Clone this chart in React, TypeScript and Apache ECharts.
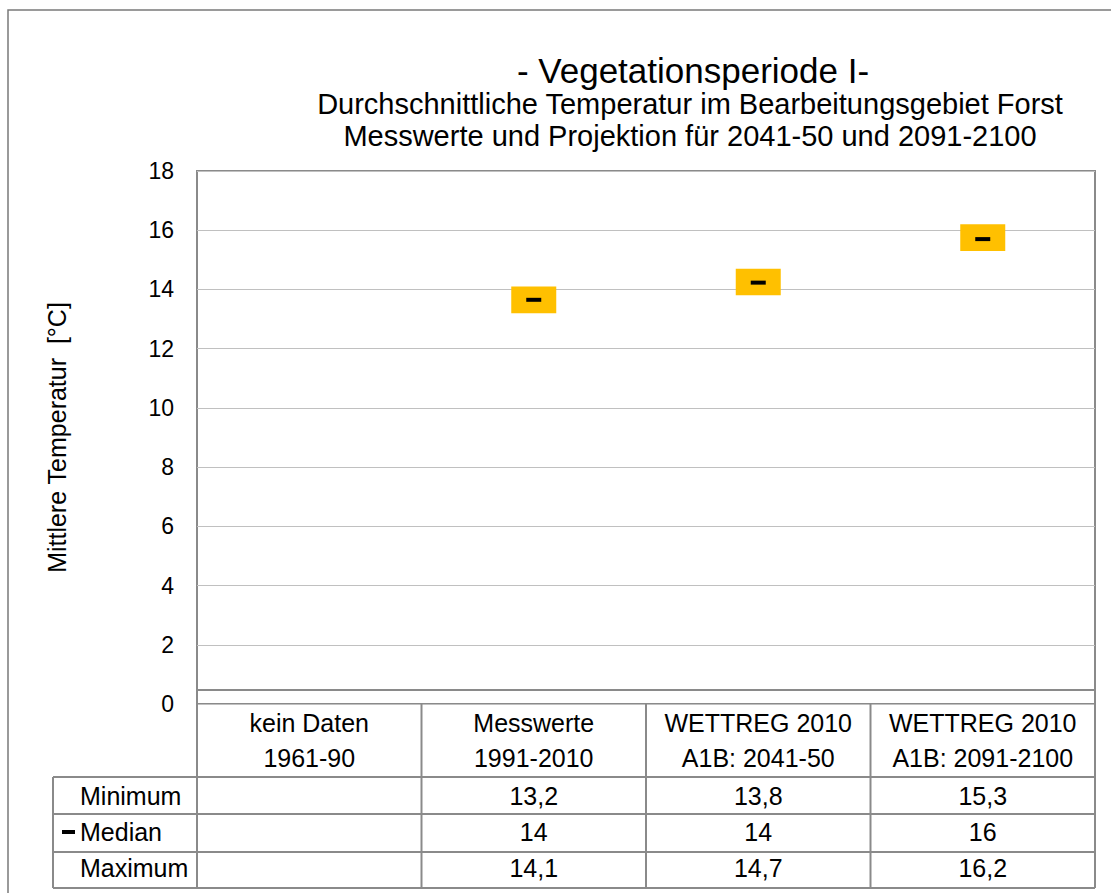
import React, { useEffect, useRef } from "react";
import * as echarts from "echarts";

const categories = ["kein Daten\n1961-90", "Messwerte\n1991-2010", "WETTREG 2010\nA1B: 2041-50", "WETTREG 2010\nA1B: 2091-2100"];
const minimum: (number | null)[] = [null, 13.2, 13.8, 15.3];
const median: (number | null)[] = [null, 13.65, 14.23, 15.7];
const medianShown: (number | null)[] = [null, 14, 14, 16];
const maximum: (number | null)[] = [null, 14.1, 14.7, 16.2];
const rowLabels = ["Minimum", "Median", "Maximum"];
const baseLineValue = 0.47;

const FONT = "'Liberation Sans', Arial, sans-serif";
const GRID = { left: 197, top: 171, right: 16, bottom: 189 };
const W = 1111;
const H = 893;

const fmt = (v: number | null) => (v == null ? "" : String(v).replace(".", ","));

export default function App() {
  const ref = useRef<HTMLDivElement>(null);
  useEffect(() => {
    if (!ref.current) return;
    const chart = echarts.init(ref.current, undefined, { renderer: "svg" });
    const boxData = categories
      .map((_, i) => (minimum[i] == null ? null : [i, minimum[i], median[i], maximum[i]]))
      .filter((d) => d != null);

    chart.setOption({
      animation: false,
      backgroundColor: "#fff",
      grid: { ...GRID, show: true, borderColor: "#8a8a8a", borderWidth: 2, backgroundColor: "transparent" },
      xAxis: {
        type: "category",
        data: categories,
        axisLine: { show: false },
        axisTick: { show: false },
        axisLabel: { fontFamily: FONT, fontSize: 25, color: "#000", lineHeight: 35, margin: 1, interval: 0 },
        splitLine: { show: false },
      },
      yAxis: {
        type: "value",
        min: 0,
        max: 18,
        interval: 2,
        axisLine: { show: false },
        axisTick: { show: false },
        axisLabel: { fontFamily: FONT, fontSize: 23, color: "#000", margin: 23 },
        splitLine: { lineStyle: { color: "#c0c0c0", width: 1 } },
        name: "Mittlere Temperatur  [°C]",
        nameLocation: "middle",
        nameRotate: 90,
        nameGap: 128,
        nameTextStyle: { fontFamily: FONT, fontSize: 25, color: "#000" },
      },
      series: [
        {
          type: "custom",
          data: boxData,
          encode: { x: 0, y: [1, 2, 3] },
          renderItem: (params: any, api: any) => {
            const idx = api.value(0);
            const lo = api.coord([idx, api.value(1)]);
            const md = api.coord([idx, api.value(2)]);
            const hi = api.coord([idx, api.value(3)]);
            const bw = 45;
            return {
              type: "group",
              children: [
                { type: "rect", shape: { x: lo[0] - bw / 2, y: hi[1], width: bw, height: lo[1] - hi[1] }, style: { fill: "#FFC000" } },
                { type: "rect", shape: { x: md[0] - 7.5, y: md[1] - 2, width: 15, height: 4 }, style: { fill: "#000" } },
              ],
            };
          },
          markLine: {
            silent: true,
            symbol: "none",
            label: { show: false },
            lineStyle: { color: "#8a8a8a", width: 2, type: "solid" },
            data: [{ yAxis: baseLineValue }],
          },
        },
      ],
    });

    const plotLeft = GRID.left;
    const plotRight = W - GRID.right;
    const plotBottom = H - GRID.bottom;
    const tableTop = plotBottom;
    const rowTops = [777, 814, 852];
    const tableBottom = 888;
    const labelLeft = 53;
    const lineStyle = { stroke: "#8a8a8a", lineWidth: 2 };
    const graphics: any[] = [];
    graphics.push({ type: "rect", shape: { x: 8, y: 10, width: W, height: H }, style: { fill: "none", stroke: "#7a7a7a", lineWidth: 1.5 }, silent: true });
    graphics.push({ type: "text", x: 693, y: 70, style: { text: "- Vegetationsperiode I-", fontFamily: FONT, fontSize: 35, fill: "#000", align: "center", verticalAlign: "middle" } });
    graphics.push({ type: "text", x: 690, y: 104, style: { text: "Durchschnittliche Temperatur im Bearbeitungsgebiet Forst", fontFamily: FONT, fontSize: 29, fill: "#000", align: "center", verticalAlign: "middle" } });
    graphics.push({ type: "text", x: 690, y: 136, style: { text: "Messwerte und Projektion für 2041-50 und 2091-2100", fontFamily: FONT, fontSize: 29, fill: "#000", align: "center", verticalAlign: "middle" } });

    const step = (plotRight - plotLeft) / categories.length;
    for (let i = 0; i <= categories.length; i++) {
      const x = plotLeft + i * step;
      graphics.push({ type: "line", shape: { x1: x, y1: tableTop, x2: x, y2: tableBottom }, style: lineStyle, silent: true });
    }
    graphics.push({ type: "line", shape: { x1: labelLeft, y1: rowTops[0], x2: labelLeft, y2: tableBottom }, style: lineStyle, silent: true });
    [...rowTops, tableBottom].forEach((y) => {
      graphics.push({ type: "line", shape: { x1: labelLeft, y1: y, x2: plotRight, y2: y }, style: lineStyle, silent: true });
    });
    const rowCenters = [796, 832, 868];
    const rowValues = [minimum, medianShown, maximum];
    rowLabels.forEach((lab, r) => {
      graphics.push({ type: "text", x: 80, y: rowCenters[r], style: { text: lab, fontFamily: FONT, fontSize: 25, fill: "#000", align: "left", verticalAlign: "middle" } });
      rowValues[r].forEach((v, i) => {
        const cx = chart.convertToPixel({ xAxisIndex: 0 }, i) as number;
        graphics.push({ type: "text", x: cx, y: rowCenters[r], style: { text: fmt(v), fontFamily: FONT, fontSize: 25, fill: "#000", align: "center", verticalAlign: "middle" } });
      });
    });
    graphics.push({ type: "rect", shape: { x: 62, y: rowCenters[1] - 2, width: 13, height: 4 }, style: { fill: "#000" } });

    chart.setOption({ graphic: graphics });
    return () => chart.dispose();
  }, []);
  return <div ref={ref} style={{ position: "absolute", left: 0, top: 0, width: W, height: H }} />;
}
